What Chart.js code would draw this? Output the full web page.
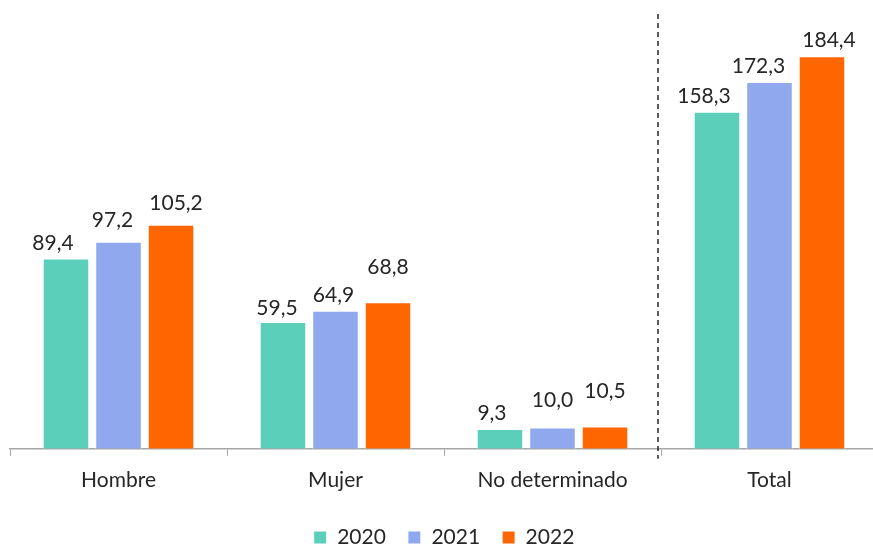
<!DOCTYPE html>
<html>
<head>
<meta charset="utf-8">
<script src="https://cdn.jsdelivr.net/npm/chart.js@4"></script>
<style>
	html, body { margin: 0; padding: 0; background: #fff; overflow: hidden; }
	#wrap { width: 878px; height: 546px; position: relative; }
</style>
</head>
<body>
<div id="wrap"><canvas id="barChart"></canvas></div>
<script>
var categories = ["Hombre", "Mujer", "No determinado", "Total"];
var years = ["2020", "2021", "2022"];
var values2020 = [89.4, 59.5, 9.3, 158.3];
var values2021 = [97.2, 64.9, 10.0, 172.3];
var values2022 = [105.2, 68.8, 10.5, 184.4];

// manual label nudges (px), as in the original
var labelDx = [[-13, -6, -8, -13], [-6, -2, 0, -11], [5, 0, 0, 7]];
var labelDy = [[0, 2, 0, 0], [-6, 0, -12, 0], [-6, -20, -20, 0]];

var color = {
	teal: "#5BCFBA",
	blue: "#8FA8EE",
	orange: "#FF6600"
};
var fontFamily = "Lato, 'Open Sans', sans-serif";

var valueLabels = {
	id: "valueLabels",
	afterDatasetsDraw: function (chart) {
		var ctx = chart.ctx;
		ctx.save();
		ctx.font = "21px " + fontFamily;
		ctx.fillStyle = "#262626";
		ctx.textAlign = "center";
		ctx.textBaseline = "bottom";
		chart.data.datasets.forEach(function (ds, i) {
			chart.getDatasetMeta(i).data.forEach(function (bar, j) {
				var txt = ds.data[j].toFixed(1).replace(".", ",");
				ctx.fillText(txt, bar.x + labelDx[i][j], bar.y - 5 + labelDy[i][j]);
			});
		});
		ctx.restore();
	}
};

var dashedDivider = {
	id: "dashedDivider",
	afterDraw: function (chart) {
		var xs = chart.scales.x;
		var x = (xs.getPixelForValue(2) + xs.getPixelForValue(3)) / 2 - 3;
		var ctx = chart.ctx;
		ctx.save();
		ctx.strokeStyle = "#262626";
		ctx.lineWidth = 1.5;
		ctx.setLineDash([5, 4]);
		ctx.beginPath();
		ctx.moveTo(x, 14);
		ctx.lineTo(x, chart.chartArea.bottom + 10);
		ctx.stroke();
		ctx.restore();
	}
};

var barChart = new Chart(document.getElementById("barChart").getContext("2d"), {
	type: "bar",
	data: {
		labels: categories,
		datasets: [
			{ label: years[0], data: values2020, backgroundColor: color.teal },
			{ label: years[1], data: values2021, backgroundColor: color.blue },
			{ label: years[2], data: values2022, backgroundColor: color.orange }
		]
	},
	options: {
		responsive: true,
		maintainAspectRatio: false,
		animation: false,
		categoryPercentage: 0.726,
		barPercentage: 0.886,
		borderColor: "#ffffff",
		borderWidth: 1,
		layout: { padding: { top: 23, left: 10, right: 0, bottom: -12 } },
		scales: {
			x: {
				grid: {
					display: true,
					offset: true,
					drawOnChartArea: false,
					drawTicks: true,
					tickLength: 7,
					color: "#a6a6a6"
				},
				border: { display: true, color: "#a6a6a6", width: 1.5 },
				ticks: {
					color: "#262626",
					padding: 12,
					font: { family: fontFamily, size: 21 }
				}
			},
			y: {
				display: false,
				min: 0,
				max: 200
			}
		},
		plugins: {
			legend: {
				position: "bottom",
				labels: {
					boxWidth: 13,
					boxHeight: 13,
					padding: 22,
					color: "#262626",
					font: { family: fontFamily, size: 21 }
				}
			},
			tooltip: { enabled: false }
		}
	},
	plugins: [valueLabels, dashedDivider]
});
</script>
</body>
</html>
